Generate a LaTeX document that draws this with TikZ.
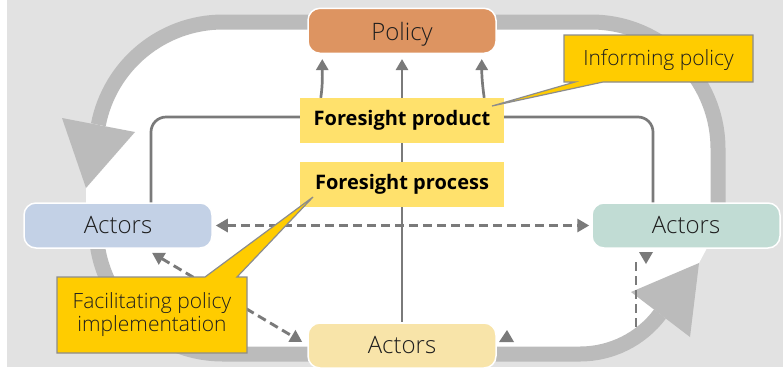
\documentclass[tikz,border=0pt]{standalone}
\usepackage{fontspec}
\setmainfont{Open Sans}
\IfFontExistsTF{Open Sans Light}
  {\newfontfamily\thinfont{Open Sans Light}}
  {\newfontfamily\thinfont{Open Sans}}
\usetikzlibrary{arrows.meta}
\definecolor{bgc}{HTML}{E2E2E2}
\definecolor{bandc}{HTML}{BBBBBB}
\definecolor{linec}{HTML}{7A7A7A}
\definecolor{polc}{HTML}{DD9461}
\definecolor{bluc}{HTML}{C3D1E6}
\definecolor{tealc}{HTML}{C1DCD4}
\definecolor{ylwc}{HTML}{F8E4A9}
\definecolor{fsc}{HTML}{FFE16C}
\definecolor{calc}{HTML}{FFCC00}
\definecolor{calb}{HTML}{8C8C8C}
\definecolor{txt}{HTML}{1E1E1E}
\begin{document}
\begin{tikzpicture}[x=1pt,y=1pt,
  actorbox/.style={rounded corners=12pt, draw=white, line width=1.5pt,
    minimum width=188pt, minimum height=45pt, inner sep=0pt, text=txt,
    text height=15.6pt, text depth=0pt,
    font=\thinfont\fontsize{24}{28}\selectfont},
  fsbox/.style={fill=fsc, minimum width=204pt, minimum height=45pt, inner sep=0pt,
    text=black, font=\fontsize{20}{24}\selectfont\bfseries},
  conn/.style={draw=linec, line width=2.7pt},
  tipped/.style={-{Triangle[width=12pt,length=11pt]}},
  dashln/.style={conn, line width=2.9pt, dash pattern=on 9pt off 5pt},
  band/.style={draw=bandc, line width=15pt},
  callout/.style={fill=calc, draw=calb, line width=1.2pt, line join=miter},
  calltext/.style={font=\thinfont\fontsize{21}{23.4}\selectfont, text=txt, inner sep=0pt, align=center}]

\useasboundingbox (0,0) rectangle (783,-368);

% backdrop and white inner field
\fill[bgc] (7,0) rectangle (783,-367);
\fill[white] (223,-22) -- (591,-22) arc[start angle=90, end angle=0, radius=127pt]
  -- (718,-240) -- (707,-248) -- (699,-263) -- (660,-314)
  arc[start angle=323.13, end angle=270, radius=100pt]
  -- (223,-354) arc[start angle=270, end angle=180, radius=127pt]
  -- (86,-205) -- (86,-188) -- (98.3,-124.8)
  arc[start angle=169, end angle=90, radius=127pt] -- cycle;

% the big cycle
\draw[band] (402,-22) -- (223,-22) arc[start angle=90, end angle=169, radius=127pt];
\fill[bandc] (62,-118) -- (135,-132) -- (86,-188) -- cycle;
\draw[band] (402,-22) -- (591,-22) arc[start angle=90, end angle=0, radius=127pt] -- (718,-226);
\draw[band] (96,-226) -- (96,-227) arc[start angle=180, end angle=270, radius=127pt] -- (402,-354);
\draw[band] (402,-354) -- (580,-354) arc[start angle=270, end angle=323.13, radius=100pt];
\fill[bandc] (631,-292) -- (699,-263) -- (690,-337) -- cycle;

% nodes
\node[actorbox, fill=polc, text height=18.5pt] (pol) at (402,-30.8) {Policy};
\node[actorbox, fill=bluc] (actL) at (118,-225.5) {Actors};
\node[actorbox, fill=tealc] (actR) at (686,-225.5) {Actors};
\node[actorbox, fill=ylwc] (actB) at (402,-345.5) {Actors};
\node[fsbox] (prod) at (402,-120.5) {Foresight product};
\node[fsbox] (proc) at (402,-184.5) {Foresight process};

% connectors
\draw[conn, tipped] ([xshift=21pt]prod.north west) to[out=82, in=-90] ([xshift=15pt, yshift=-5pt]pol.south west);
\draw[conn, tipped] (prod.north) -- ([yshift=-5pt]pol.south);
\draw[conn, tipped] ([xshift=-20pt]prod.north east) to[out=98, in=-90] ([xshift=-15pt, yshift=-5pt]pol.south east);
\draw[conn, rounded corners=15pt] ([yshift=3.5pt]prod.west) -| ([xshift=33pt]actL.north);
\draw[conn, rounded corners=15pt] ([yshift=3.5pt]prod.east) -| ([xshift=-33pt]actR.north);
\draw[conn] (prod.south) -- (proc.north);
\draw[conn] (proc.south) -- (actB.north);
\draw[dashln, {Triangle[width=13pt,length=12pt]}-{Triangle[width=13pt,length=12pt]}, shorten <=3pt, shorten >=2pt]
  (actL.east) -- (actR.west);
\draw[dashln, {Triangle[width=13pt,length=12pt]}-{Triangle[width=13pt,length=12pt]}]
  ([xshift=34pt, yshift=-4pt]actL.south) -- ([xshift=-5pt, yshift=3.5pt]actB.west);
\coordinate (dtop) at (636,-262);
\coordinate (dbot) at (636,-330);
\draw[dashln] (dtop) -- (dbot);
\fill[linec] (639,-252) -- (653,-252) -- (646,-264) -- cycle;
\fill[linec] (499,-342) -- (514,-342) -- (507,-330) -- cycle;

% callouts
\draw[callout] (564,-35) -- (753,-35) -- (753,-82) -- (603,-82) -- (492,-106)
  -- (575,-82) -- (564,-82) -- cycle;
\node[calltext] (inf) at (658.5,-59.5) {Informing policy};
\draw[callout] (57,-277) -- (205,-277) -- (313,-197) -- (237,-277) -- (247,-277)
  -- (247,-353) -- (57,-353) -- cycle;
\node[calltext] (fac) at (152,-314.5) {Facilitating policy\\implementation};
\end{tikzpicture}
\end{document}
